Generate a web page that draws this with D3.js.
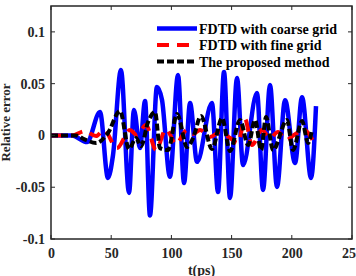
<!DOCTYPE html>
<html>
<head>
<meta charset="utf-8">
<script src="https://cdn.jsdelivr.net/npm/d3@7"></script>
<style>
  body { margin: 0; background: #fff; }
  svg text { font-family: "Liberation Serif", "Times New Roman", serif; font-weight: bold; }
</style>
</head>
<body>
<div id="chart-container"></div>
<script>
// Series (t in ps, relative error)
const coarseT = [0, 17.4, 29.9, 40.7, 47.3, 51.5, 58.1, 64.8, 68.9, 73.9, 78.1, 82.2, 88.0, 92.2, 98.8, 105.5, 110.5, 115.5, 121.3, 133.7, 138.7, 143.7, 148.7, 154.5, 159.5, 171.1, 176.1, 181.9, 187.7, 194.4, 202.7, 208.5, 216.0, 220.1];
const coarseV = [0, 0, -0.0064, 0.0226, -0.041, -0.019, 0.0631, -0.0555, 0.0246, -0.0121, 0.0332, -0.0772, 0.0468, 0.0342, -0.04, 0.0583, -0.046, 0.0313, -0.0255, 0.0313, -0.0547, 0.0612, -0.0603, 0.0554, -0.0286, 0.0409, -0.0527, 0.0486, -0.0498, 0.0341, -0.0266, 0.037, -0.0411, 0.0284];

const fineT = [0, 17.4, 28.2, 37.4, 44.0, 54.8, 65.6, 71.4, 78.9, 87.2, 95.5, 103.8, 112.9, 117.9, 123.8, 132.1, 140.4, 148.7, 155.3, 161.1, 166.9, 175.2, 181.9, 188.5, 195.2, 201.8, 210.1, 219.3];
const fineV = [0, 0, 0.0042, -0.0006, 0.0052, -0.0122, 0.0052, 0.0004, 0.01, -0.0141, 0.0062, -0.0083, 0.0052, 0.0014, 0.0052, -0.0015, 0.0033, -0.0025, -0.0073, 0.0159, -0.0093, 0.0052, -0.0025, 0.0033, -0.0044, 0.0004, 0.0052, -0.0093];

const proposedT = [0, 20.8, 27.4, 37.4, 47.3, 57.3, 64.8, 70.6, 74.8, 80.6, 86.4, 90.5, 97.2, 104.7, 113.0, 118.0, 124.6, 133.7, 142.1, 148.7, 157.0, 163.7, 169.5, 174.5, 178.6, 184.4, 196.0, 201.0, 208.5, 213.5, 216.8];
const proposedV = [0, 0, -0.0035, -0.0073, 0.0023, 0.0236, -0.0131, -0.0025, -0.0102, 0.0129, 0.0226, -0.0122, -0.0141, 0.0207, -0.0112, -0.0025, 0.0187, -0.0131, 0.0168, -0.0151, 0.0149, -0.0093, 0.0149, -0.0141, 0.0178, -0.0141, 0.0149, -0.0141, 0.0139, -0.0073, 0.0052];

const legendLabels = ['FDTD with coarse grid', 'FDTD with fine grid', 'The proposed method'];
const xTicks = [0, 50, 100, 150, 200, 250];
const yTicks = [-0.1, -0.05, 0, 0.05, 0.1];
const yTickLabels = ['-0.1', '-0.05', '0', '0.05', '0.1'];

displayChart();

function displayChart() {
  const width = 356;
  const height = 276;
  const box = { left: 51, right: 352, top: 6, bottom: 239 };
  const axisColor = '#262626';

  const svg = d3.select('#chart-container').append('svg')
      .attr('width', width)
      .attr('height', height);

  const x = d3.scaleLinear([0, 250], [box.left, box.right]);
  const y = d3.scaleLinear([-0.1, 0.125], [box.bottom, box.top]);

  const series = [
    { t: coarseT, v: coarseV, color: '#0000ff', width: 4.5, dash: null },
    { t: fineT, v: fineV, color: '#ff0000', width: 4, dash: '12,8' },
    { t: proposedT, v: proposedV, color: '#000000', width: 4, dash: '7,3' },
  ];

  const line = d3.line()
      .x(d => x(d[0]))
      .y(d => y(d[1]))
      .curve(d3.curveMonotoneX);

  svg.append('g')
    .selectAll('path')
    .data(series)
    .join('path')
      .attr('d', s => line(d3.zip(s.t, s.v)))
      .attr('fill', 'none')
      .attr('stroke', s => s.color)
      .attr('stroke-width', s => s.width)
      .attr('stroke-dasharray', s => s.dash)
      .attr('stroke-linejoin', 'round');

  // axes: bottom/left carry the labels, ticks drawn inward on all four sides
  const tickLen = 4;
  const xAxis = d3.axisBottom(x).tickValues(xTicks).tickSize(0).tickPadding(9);
  const gx = svg.append('g')
      .attr('transform', `translate(0, ${box.bottom})`)
      .call(xAxis);
  const yAxis = d3.axisLeft(y).tickValues(yTicks).tickSize(0).tickPadding(6)
      .tickFormat((d, i) => yTickLabels[i]);
  const gy = svg.append('g')
      .attr('transform', `translate(${box.left}, 0)`)
      .call(yAxis);
  [gx, gy].forEach(g => {
    g.attr('font-family', null).attr('font-size', null);
    g.select('.domain').remove();
    g.selectAll('text')
        .attr('fill', axisColor)
        .style('font-size', '14px');
  });

  const ticks = svg.append('g').attr('stroke', axisColor).attr('stroke-width', 1);
  xTicks.forEach(t => {
    ticks.append('line').attr('x1', x(t)).attr('x2', x(t)).attr('y1', box.bottom).attr('y2', box.bottom - tickLen);
    ticks.append('line').attr('x1', x(t)).attr('x2', x(t)).attr('y1', box.top).attr('y2', box.top + tickLen);
  });
  yTicks.forEach(v => {
    ticks.append('line').attr('x1', box.left).attr('x2', box.left + tickLen).attr('y1', y(v)).attr('y2', y(v));
    ticks.append('line').attr('x1', box.right).attr('x2', box.right - tickLen).attr('y1', y(v)).attr('y2', y(v));
  });

  svg.append('rect')
      .attr('x', box.left)
      .attr('y', box.top)
      .attr('width', box.right - box.left)
      .attr('height', box.bottom - box.top)
      .attr('fill', 'none')
      .attr('stroke', axisColor)
      .attr('stroke-width', 1.5);

  // axis titles
  svg.append('text')
      .attr('x', (box.left + box.right) / 2)
      .attr('y', 275)
      .attr('text-anchor', 'middle')
      .attr('fill', axisColor)
      .style('font-size', '14px')
      .text('t(ps)');

  svg.append('text')
      .attr('transform', `translate(10, ${(box.top + box.bottom) / 2}) rotate(-90)`)
      .attr('text-anchor', 'middle')
      .attr('fill', axisColor)
      .style('font-size', '13px')
      .text('Relative error');

  // legend
  const legend = svg.append('g').attr('transform', 'translate(157, 28.5)');
  const rows = legend.selectAll('g')
    .data(series)
    .join('g')
      .attr('transform', (d, i) => `translate(0, ${i * 16.5})`);
  rows.append('line')
      .attr('x1', 0).attr('x2', 40)
      .attr('stroke', s => s.color)
      .attr('stroke-width', s => s.width)
      .attr('stroke-dasharray', s => s.dash);
  rows.append('text')
      .attr('x', 42)
      .attr('y', 5)
      .style('font-size', '14px')
      .attr('fill', '#000')
      .text((d, i) => legendLabels[i]);
}
</script>
</body>
</html>
